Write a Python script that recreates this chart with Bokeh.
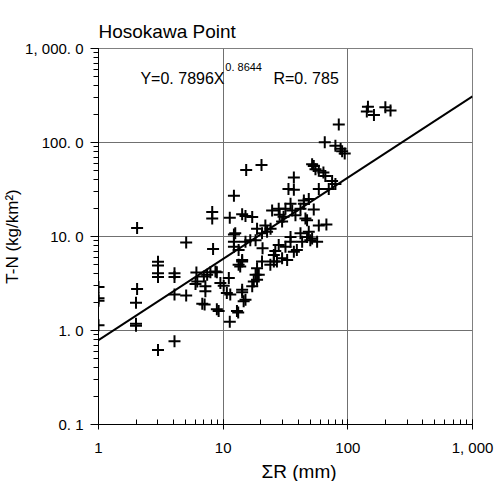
import numpy as np
from bokeh.plotting import figure
from bokeh.models import Label, LogTicker, Title
from bokeh.embed import file_html
from bokeh.resources import INLINE

# ---- data ----
sum_r = [1.0, 1.0, 1.0, 1.0, 2.04, 2.04, 2.0, 2.0, 2.0, 3.0,
         3.0, 3.0, 3.0, 3.0, 4.07, 4.07, 4.07, 4.07, 5.05, 5.05,
         6.1, 6.2, 6.0, 6.8, 7.0, 7.2, 7.2, 7.1, 7.44, 7.9,
         8.17, 8.17, 8.3, 8.67, 8.9, 8.9, 9.2, 9.5, 10.1, 10.7,
         11.1, 11.3, 11.3, 12.2, 12.2, 12.2, 12.2, 12.5, 12.9, 13.2,
         13.3, 13.3, 13.7, 14.2, 14.2, 14.2, 14.2, 14.2, 14.6, 15.1,
         15.1, 15.1, 15.3, 16.5, 17.1, 17.1, 17.6, 18.2, 18.2, 18.7,
         18.7, 18.7, 19.3, 20.3, 20.5, 20.5, 20.7, 21.8, 22.5, 24.0,
         23.9, 24.7, 25.5, 25.5, 26.2, 27.0, 27.9, 27.9, 28.4, 29.7,
         29.7, 30.5, 31.6, 31.6, 32.6, 33.4, 34.7, 34.7, 34.7, 35.8,
         36.9, 36.9, 36.9, 38.0, 39.0, 41.7, 41.7, 43.0, 44.4, 44.4,
         45.7, 47.1, 47.1, 48.6, 48.6, 50.0, 51.7, 51.7, 53.3, 53.3,
         55.0, 56.7, 58.5, 58.5, 58.5, 63.7, 65.3, 67.3, 66.0, 70.3,
         74.8, 79.5, 79.5, 84.6, 87.5, 90.0, 94.4, 145, 142, 162,
         200, 220, 11.4]
tn = [2.9, 2.2, 2.07, 1.14, 12.3, 2.77, 1.97, 1.18, 1.12, 5.4,
      4.9, 4.07, 3.7, 0.62, 4.07, 3.7, 2.41, 0.77, 8.65, 2.35,
      4.15, 3.33, 3.12, 1.92, 3.76, 2.95, 2.62, 1.89, 3.91, 4.17,
      18.2, 15.5, 7.35, 4.25, 4.17, 1.68, 1.61, 3.2, 3.0, 2.51,
      3.61, 1.24, 15.8, 27.2, 10.5, 8.8, 7.8, 10.8, 1.61, 1.55,
      7.2, 5.0, 4.8, 17.2, 5.63, 5.42, 2.72, 2.56, 2.05, 16.5,
      8.8, 2.13, 51, 9.1, 16.1, 2.95, 3.33, 9.1, 3.91, 12.1,
      4.6, 3.47, 3.91, 57.7, 10.8, 5.42, 7.5, 13.1, 11.2, 12.1,
      5.0, 18.9, 6.36, 5.42, 7.0, 5.42, 19.7, 8.1, 17.0, 5.87,
      14.4, 16.2, 19.7, 7.8, 5.63, 32, 22.3, 9.9, 8.8, 18.9,
      42.5, 31.5, 6.9, 16.8, 7.2, 19.7, 10.8, 8.8, 24.1, 22.3,
      15.5, 14.9, 9.9, 25.1, 11.2, 9.1, 58.7, 9.5, 56.4, 19.4,
      52, 8.8, 50, 32, 13.1, 48, 100.7, 13.4, 44, 32,
      39, 36.1, 92.6, 155, 86, 80.8, 76.2, 240, 214, 196,
      237, 219, 2.41]

fit_coef = 0.7896
fit_expo = 0.8644
fit_x = [1, 1000]

x_ticks = [1, 10, 100, 1000]
x_tick_labels = ["1", "10", "100", "1, 000"]
y_ticks = [0.1, 1, 10, 100, 1000]
y_tick_labels = ["0. 1", "1. 0", "10. 0", "100. 0", "1, 000. 0"]

FONT = "Liberation Sans"

p = figure(width=499, height=481, x_axis_type="log", y_axis_type="log",
           x_range=(1, 1000), y_range=(0.1, 1000),
           output_backend="svg", toolbar_location=None,
           min_border_left=98, min_border_right=27,
           min_border_top=48, min_border_bottom=53)
p.background_fill_color = "white"
p.border_fill_color = "white"
p.outline_line_color = "#808080"
p.outline_line_width = 1

p.title.text = "Hosokawa Point"
p.title.align = "left"
p.title.text_font = FONT
p.title.text_font_size = "19px"
p.title.text_font_style = "normal"
p.title.text_color = "black"
p.title.standoff = 14

p.xaxis.ticker = LogTicker(desired_num_ticks=4, num_minor_ticks=10)
p.yaxis.ticker = LogTicker(desired_num_ticks=5, num_minor_ticks=10)
p.xaxis.major_label_overrides = {t: l for t, l in zip(x_ticks, x_tick_labels)}
p.yaxis.major_label_overrides = {t: l for t, l in zip(y_ticks, y_tick_labels)}

p.grid.grid_line_color = "#707070"
p.grid.grid_line_width = 1

for ax in (p.xaxis, p.yaxis):
    ax.axis_line_color = "black"
    ax.major_tick_line_color = "black"
    ax.minor_tick_line_color = "black"
    ax.major_label_text_font = FONT
    ax.major_label_text_font_size = "15px"
    ax.major_label_text_color = "black"

p.xaxis.major_tick_out = 5
p.xaxis.major_tick_in = 0
p.xaxis.minor_tick_in = 5
p.xaxis.minor_tick_out = 0
p.xaxis.major_label_standoff = 9
p.xaxis.axis_label = None

p.yaxis.major_tick_out = 8
p.yaxis.major_tick_in = 0
p.yaxis.minor_tick_out = 5
p.yaxis.minor_tick_in = 0
p.yaxis.major_label_standoff = 7
p.yaxis.axis_label = "T-N (kg/km²)"
p.yaxis.axis_label_text_font = FONT
p.yaxis.axis_label_text_font_size = "17px"
p.yaxis.axis_label_text_font_style = "normal"
p.yaxis.axis_label_text_color = "black"
p.yaxis.axis_label_standoff = 0

# x axis title as a Title below the axis, shifted to the reference position
p.add_layout(Title(text="ΣR (mm)", align="left", offset=163, standoff=0,
                   text_font=FONT, text_font_size="19px", text_font_style="normal",
                   text_color="black"), "below")

# data points
p.scatter(sum_r, tn, marker="cross", size=12, line_color="black", line_width=2)

# fit line
fx = np.array(fit_x, dtype=float)
p.line(fx, fit_coef * fx ** fit_expo, line_color="black", line_width=2)

# equation texts (inside the frame)
p.add_layout(Label(x=2.17, y=483, text="Y=0. 7896X", text_font=FONT,
                   text_font_size="16px", text_baseline="alphabetic", text_color="black"))
p.add_layout(Label(x=10.4, y=640, text="0. 8644", text_font=FONT,
                   text_font_size="11px", text_baseline="alphabetic", text_color="black"))
p.add_layout(Label(x=25.3, y=483, text="R=0. 785", text_font=FONT,
                   text_font_size="16px", text_baseline="alphabetic", text_color="black"))

open("out.html", "w").write(file_html(p, INLINE))
